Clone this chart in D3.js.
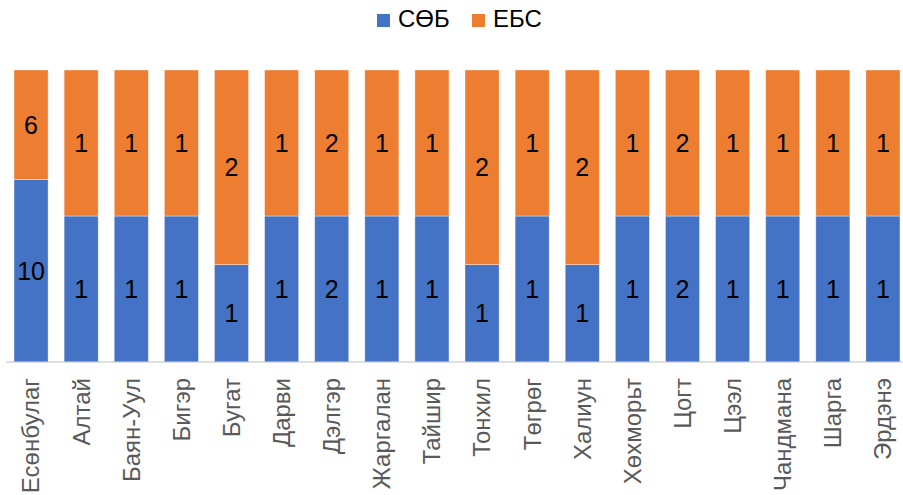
<!DOCTYPE html>
<html>
<head>
<meta charset="utf-8">
<script src="https://cdn.jsdelivr.net/npm/d3@7"></script>
<style>
  html, body { margin: 0; padding: 0; background: #fff; }
  svg { display: block; font-family: "Liberation Sans", Arial, sans-serif; }
</style>
</head>
<body>
<svg id="chart"></svg>
<script>
// сумын нэрс
const categories = ["Есөнбулаг", "Алтай", "Баян-Уул", "Бигэр", "Бугат", "Дарви", "Дэлгэр",
  "Жаргалан", "Тайшир", "Тонхил", "Төгрөг", "Халиун", "Хөхморьт", "Цогт", "Цээл",
  "Чандмана", "Шарга", "Эрдэнэ"];
const sobValues = [10, 1, 1, 1, 1, 1, 2, 1, 1, 1, 1, 1, 1, 2, 1, 1, 1, 1];
const ebsValues = [6, 1, 1, 1, 2, 1, 2, 1, 1, 2, 1, 2, 1, 2, 1, 1, 1, 1];
const seriesNames = ["СӨБ", "ЕБС"];
const seriesColors = ["#4472c4", "#ed7d31"];

const width = 903, height = 495;
const margin = { top: 70, right: -5, bottom: 133, left: 6 };

const svg = d3.select("#chart").attr("width", width).attr("height", height);

const rows = categories.map((c, i) => ({ name: c, "СӨБ": sobValues[i], "ЕБС": ebsValues[i] }));
const stacked = d3.stack().keys(seriesNames).offset(d3.stackOffsetExpand)(rows);

const x = d3.scaleBand()
  .domain(categories)
  .range([margin.left, width - margin.right])
  .paddingInner(0.32)
  .paddingOuter(0.16);

const y = d3.scaleLinear()
  .domain([0, 1])
  .range([height - margin.bottom, margin.top]);

const color = d3.scaleOrdinal().domain(seriesNames).range(seriesColors);

// столбцы
const groups = svg.append("g")
  .selectAll("g")
  .data(stacked)
  .enter().append("g")
  .attr("fill", d => color(d.key));

groups.selectAll("rect")
  .data(d => d)
  .enter().append("rect")
  .attr("x", d => x(d.data.name))
  .attr("y", d => y(d[1]))
  .attr("width", x.bandwidth())
  .attr("height", d => y(d[0]) - y(d[1]))
  .attr("stroke", "rgba(255,255,255,0.5)")
  .attr("stroke-width", 0.75);

// утгын шошго
groups.each(function(s) {
  d3.select(this).selectAll("text")
    .data(s)
    .enter().append("text")
    .attr("x", d => x(d.data.name) + x.bandwidth() / 2)
    .attr("y", d => (y(d[0]) + y(d[1])) / 2)
    .attr("dy", "0.36em")
    .attr("text-anchor", "middle")
    .attr("font-size", 25)
    .attr("fill", "#000")
    .text(d => d.data[s.key]);
});

// x тэнхлэг
const xAxis = svg.append("g")
  .attr("transform", `translate(0,${height - margin.bottom})`)
  .call(d3.axisBottom(x).tickSize(0).tickPadding(0));

xAxis.select(".domain").attr("stroke", "#bfbfbf").attr("stroke-width", 1)
  .attr("d", `M${margin.left},0H${width}`);

xAxis.selectAll("text")
  .attr("transform", "rotate(-90)")
  .attr("text-anchor", "end")
  .attr("x", -16)
  .attr("y", 0)
  .attr("dy", "0.35em")
  .attr("font-size", 24)
  .attr("font-family", "Liberation Sans, Arial, sans-serif")
  .attr("fill", "#595959");

// тайлбар
const legend = svg.append("g");
const legendX = [377, 472];
seriesNames.forEach((name, i) => {
  legend.append("rect")
    .attr("x", legendX[i]).attr("y", 14)
    .attr("width", 13).attr("height", 13)
    .attr("fill", seriesColors[i]);
  legend.append("text")
    .attr("x", legendX[i] + 21).attr("y", 27)
    .attr("font-size", 24)
    .attr("fill", "#000")
    .text(name);
});
</script>
</body>
</html>
